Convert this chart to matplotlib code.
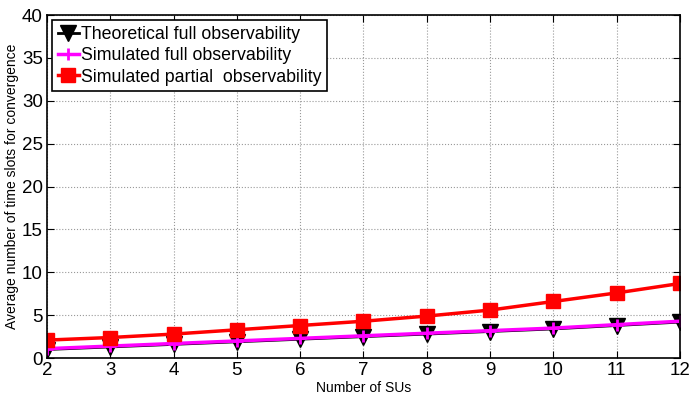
import numpy as np
import matplotlib.pyplot as plt

plt.rcParams['font.family'] = ['Liberation Sans', 'DejaVu Sans']

num_sus = [2, 3, 4, 5, 6, 7, 8, 9, 10, 11, 12]
theoretical_full = [1.0, 1.3, 1.6, 1.9, 2.2, 2.5, 2.8, 3.1, 3.4, 3.8, 4.2]
simulated_full = [1.1, 1.4, 1.7, 2.0, 2.3, 2.6, 2.9, 3.2, 3.5, 3.9, 4.3]
simulated_partial = [2.1, 2.4, 2.8, 3.3, 3.8, 4.3, 4.9, 5.6, 6.6, 7.6, 8.7]

fig = plt.figure(figsize=(6.91, 3.97), dpi=100)
ax = fig.add_axes([0.068, 0.098, 0.916, 0.864])

ax.plot(num_sus, theoretical_full, color='black', marker='v', markersize=11,
        linewidth=2, label='Theoretical full observability')
ax.plot(num_sus, simulated_full, color='magenta', marker='+', markersize=8,
        markeredgewidth=2, linewidth=2.5, label='Simulated full observability')
ax.plot(num_sus, simulated_partial, color='red', marker='s', markersize=10,
        linewidth=2.5, label='Simulated partial  observability')

ax.set_xlim(2, 12)
ax.set_ylim(0, 40)
ax.set_xticks(num_sus)
ax.set_yticks(np.arange(0, 41, 5))
ax.tick_params(direction='in', top=True, right=True, labelsize=13.5, length=5, pad=3)
ax.grid(True, linestyle=':', color='#999999', linewidth=0.8)
for s in ax.spines.values():
    s.set_linewidth(1.2)

ax.set_xlabel('Number of SUs', fontsize=10, labelpad=1)
ax.set_ylabel('Average number of time slots for convergence', fontsize=10, labelpad=2)

leg = ax.legend(loc='upper left', fontsize=12.8, fancybox=False, framealpha=1,
                edgecolor='black', handlelength=1.2, handletextpad=0.1,
                borderpad=0.3, labelspacing=0.25, borderaxespad=0.3)
leg.get_frame().set_linewidth(1.2)

fig.savefig('out.png', dpi=100)
